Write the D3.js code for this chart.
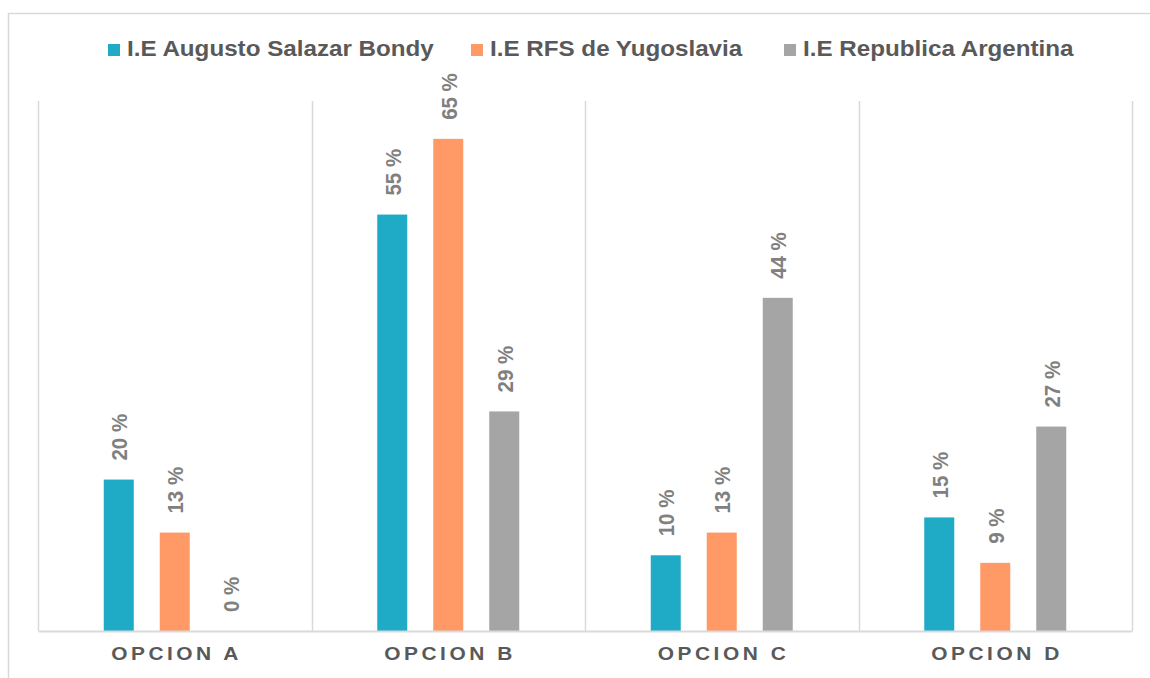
<!DOCTYPE html>
<html>
<head>
<meta charset="utf-8">
<script src="https://cdn.jsdelivr.net/npm/d3@7"></script>
<style>
  html, body { margin: 0; padding: 0; background: #fff; }
  svg { display: block; font-family: "Liberation Sans", Arial, sans-serif; }
</style>
</head>
<body>
<svg id="chart" width="1150" height="678"></svg>
<script>
// Categories and series
const categories = ["OPCION A", "OPCION B", "OPCION C", "OPCION D"];
const seriesNames = ["I.E Augusto Salazar Bondy", "I.E RFS de Yugoslavia", "I.E Republica Argentina"];
const salazarBondy = [20, 55, 10, 15];
const yugoslavia = [13, 65, 13, 9];
const argentina = [0, 29, 44, 27];
const seriesValues = [salazarBondy, yugoslavia, argentina];
const seriesColors = ["#1fabc6", "#ff9966", "#a5a5a5"];

const svg = d3.select("#chart");
const W = 1150, H = 678;
const plot = { left: 38, right: 1132, top: 101, bottom: 631 };
const stretch = 1.1; // text is set slightly wide

// Outer chart frame
svg.append("rect")
  .attr("x", 8.5).attr("y", 13.5)
  .attr("width", W + 20).attr("height", H + 20)
  .attr("fill", "none").attr("stroke", "#d9d9d9").attr("stroke-width", 1.5);

const x = d3.scaleBand().domain(categories).range([plot.left, plot.right]).padding(0);
const y = d3.scaleLinear().domain([0, 70]).range([plot.bottom, plot.top]);

// Inner band for the three series inside a category
const groupWidth = 142;
const xs = d3.scaleBand().domain(d3.range(seriesNames.length))
  .range([0, groupWidth]).paddingInner(26 / 56).paddingOuter(0);
const groupOffset = (x.bandwidth() - groupWidth) / 2;

// Vertical separators between categories
const bounds = categories.map(c => x(c)).concat([plot.right]);
svg.append("g").selectAll("line").data(bounds).join("line")
  .attr("x1", d => Math.round(d) + 0.5).attr("x2", d => Math.round(d) + 0.5)
  .attr("y1", plot.top).attr("y2", plot.bottom)
  .attr("stroke", "#d9d9d9").attr("stroke-width", 1.5);

// Bars
const rows = [];
categories.forEach((c, ci) => {
  seriesValues.forEach((vals, si) => rows.push({ c, si, v: vals[ci] }));
});

const barX = d => x(d.c) + groupOffset + xs(d.si);

svg.append("g").selectAll("rect").data(rows).join("rect")
  .attr("x", barX)
  .attr("y", d => y(d.v))
  .attr("width", xs.bandwidth())
  .attr("height", d => y(0) - y(d.v))
  .attr("fill", d => seriesColors[d.si]);

// Category axis line and labels
const xAxis = d3.axisBottom(x).tickSize(0).tickPadding(0);
const axisG = svg.append("g").attr("transform", `translate(0,${plot.bottom})`).call(xAxis);
axisG.select(".domain").attr("stroke", "#d9d9d9").attr("stroke-width", 2);
axisG.selectAll(".tick text")
  .attr("y", 29)
  .attr("dy", 0)
  .attr("transform", `scale(${stretch},1)`)
  .attr("fill", "#595959")
  .attr("font-family", "'Liberation Sans', Arial, sans-serif")
  .attr("font-size", 19)
  .attr("font-weight", "bold")
  .attr("letter-spacing", 3.2)
  .attr("dx", 1.6);

// Value labels, rotated
svg.append("g").selectAll("text").data(rows).join("text")
  .attr("transform", d => `translate(${barX(d) + xs.bandwidth() / 2 + 1},${y(d.v) - 19}) scale(${stretch},1) rotate(-90)`)
  .attr("text-anchor", "start")
  .attr("dominant-baseline", "central")
  .attr("fill", "#808080")
  .attr("font-size", 20.5)
  .attr("font-weight", "bold")
  .text(d => `${d.v} %`);

// Legend
const legendX = [108, 471, 784];
const legend = svg.append("g").selectAll("g").data(seriesNames).join("g")
  .attr("transform", (d, i) => `translate(${legendX[i]},0)`);
legend.append("rect")
  .attr("x", 0).attr("y", 44).attr("width", 12).attr("height", 12)
  .attr("fill", (d, i) => seriesColors[i]);
legend.append("text")
  .attr("transform", `translate(19,56) scale(${stretch},1)`)
  .attr("fill", "#595959")
  .attr("font-size", 22)
  .attr("font-weight", "bold")
  .text(d => d);
</script>
</body>
</html>
